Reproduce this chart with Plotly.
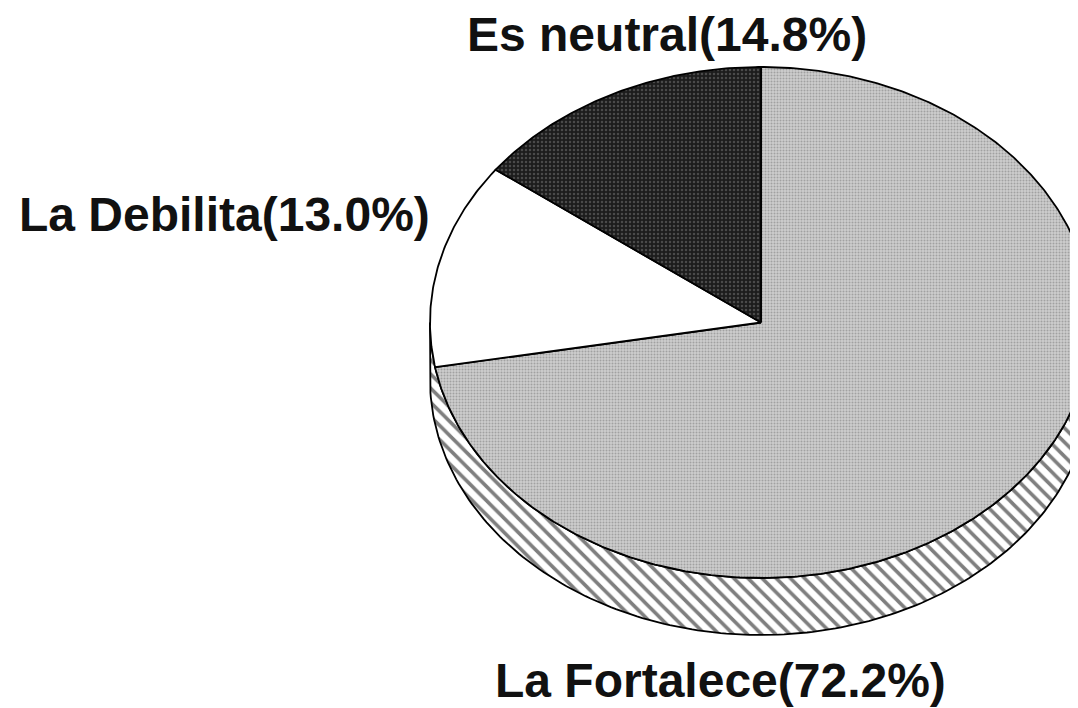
import numpy as np
import plotly.graph_objects as go

# ---- data ----
categories = ["La Fortalece", "La Debilita", "Es neutral"]
values = [72.2, 13.0, 14.8]
label_texts = ["La Fortalece(72.2%)", "La Debilita(13.0%)", "Es neutral(14.8%)"]

# ---- layout / style constants (page-pixel units) ----
W, H = 1078, 708
PAD = 8  # default page body margin; the figure is shrunk so page pixels == data units
cx, cy, rx, ry, depth = 761, 322.5, 331, 255.5, 57
label_pos = {"La Fortalece": (720, 680), "La Debilita": (224, 214), "Es neutral": (667, 34)}
fills = {
    "La Fortalece": dict(shape=".", bgcolor="#cdcdcd", fgcolor="#767676", size=3, solidity=0.35),
    "La Debilita": None,
    "Es neutral": dict(shape=".", bgcolor="#1c1c1c", fgcolor="#777777", size=4, solidity=0.3),
}
base_colors = {"La Fortalece": "#c6c6c6", "La Debilita": "#ffffff", "Es neutral": "#262626"}


def ellipse_pt(theta_deg, dy=0.0):
    t = np.radians(theta_deg)
    return cx + rx * np.sin(t), cy - ry * np.cos(t) + dy


fig = go.Figure()

# 3D side (visible front half, hatched)
th = np.linspace(90, 270, 181)
tx, ty = ellipse_pt(th)
bx, by = ellipse_pt(th[::-1], depth)
sx = np.concatenate([tx, bx, tx[:1]])
sy = np.concatenate([ty, by, ty[:1]])
fig.add_trace(go.Scatter(
    x=sx, y=sy, mode="lines", fill="toself", fillcolor="#ffffff",
    fillpattern=dict(shape="\\", bgcolor="#ffffff", fgcolor="#000000", size=10, solidity=0.36),
    line=dict(color="#000000", width=1.8), hoverinfo="skip", showlegend=False,
))

# top face slices
total = sum(values)
start = 0.0
for cat, v in zip(categories, values):
    span = 360.0 * v / total
    th = np.linspace(start, start + span, max(int(span * 2), 4))
    ax_, ay_ = ellipse_pt(th)
    xs = np.concatenate([[cx], ax_, [cx]])
    ys = np.concatenate([[cy], ay_, [cy]])
    kw = {}
    if fills[cat] is not None:
        kw["fillpattern"] = fills[cat]
    fig.add_trace(go.Scatter(
        x=xs, y=ys, mode="lines", fill="toself", fillcolor=base_colors[cat],
        line=dict(color="#000000", width=1.8), name=cat, hoverinfo="name",
        showlegend=False, **kw,
    ))
    start += span

# labels
for cat, txt in zip(categories, label_texts):
    x, y = label_pos[cat]
    fig.add_annotation(
        x=x, y=y, xref="x", yref="y", text=txt, showarrow=False,
        xanchor="center", yanchor="middle",
        font=dict(family="Liberation Sans, Arial, sans-serif", size=48, color="#111111", weight="bold"),
    )

fig.update_layout(
    width=W - PAD, height=H - PAD, margin=dict(l=0, r=0, t=0, b=0),
    paper_bgcolor="#ffffff", plot_bgcolor="#ffffff",
    xaxis=dict(range=[PAD, W], visible=False, fixedrange=True),
    yaxis=dict(range=[H, PAD], visible=False, fixedrange=True),
)

fig.write_html("out.html")
